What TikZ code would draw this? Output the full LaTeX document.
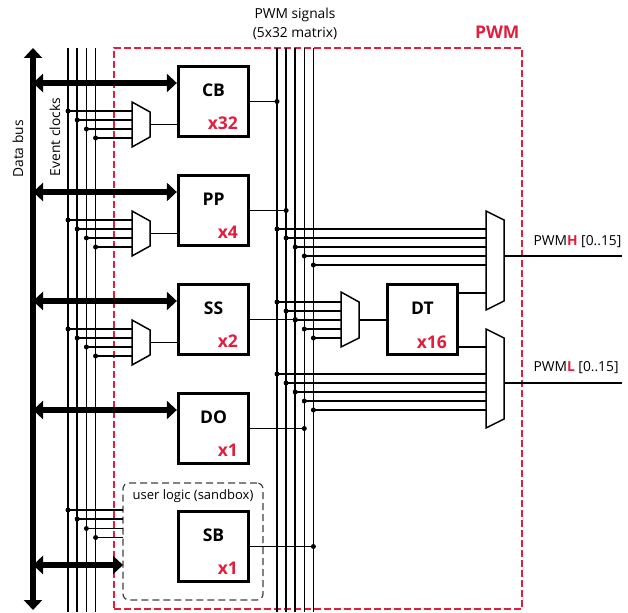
\documentclass[tikz,border=0pt]{standalone}
\usepackage{fontspec}
\setmainfont{Open Sans}
\usetikzlibrary{arrows.meta,calc}
\definecolor{pwmred}{RGB}{226,30,62}
\begin{document}
\begin{tikzpicture}[x=1pt,y=-1pt,
  wire/.style={line width=1.5pt},
  busarrow/.style={line width=6pt,{Triangle[width=18pt,length=10pt]}-{Triangle[width=18pt,length=10pt]}},
  blk/.style={draw,fill=white,line width=3.3pt,minimum width=70pt,minimum height=70pt,inner sep=0pt},
  dot/.style={circle,fill,inner sep=0pt,minimum size=5pt},
  mux/.style={draw,line width=1.5pt,fill=white,line join=miter},
  namefont/.style={font=\fontsize{17.5}{20}\selectfont\bfseries},
  cntfont/.style={font=\fontsize{17.5}{20}\selectfont\bfseries,text=pwmred},
  txt/.style={font=\fontsize{13.8}{16}\selectfont},
]
\useasboundingbox (0,0) rectangle (628,612);

% PWM region
\node[draw=pwmred,line width=1.2pt,dash pattern=on 7pt off 3pt,minimum width=408pt,minimum height=561pt,inner sep=0pt,outer sep=0pt] (pwmbox) at (318,328.5) {};
\node[font=\fontsize{17.5}{20}\selectfont\bfseries,text=pwmred,anchor=east] (pwmtitle) at (523,32) {PWM};

% sandbox
\node[draw=black!75,line width=1.2pt,dash pattern=on 7pt off 4pt,rounded corners=6pt,minimum width=140pt,minimum height=117pt,inner sep=0pt,outer sep=0pt] (sandbox) at (193,541.5) {};
\node[font=\fontsize{13}{15}\selectfont] (sbtitle) at (193,496) {user logic (sandbox)};

% titles
\node[txt] (sig1) at (295,15) {PWM signals};
\node[txt] (sig2) at (295,34) {(5x32 matrix)};
\node[txt,rotate=90] (dbus) at (18,149) {Data bus};
\node[txt,rotate=90] (evclk) at (55,137) {Event clocks};

% event clock lines
\foreach \i/\x in {1/68,2/77.2,3/86.4,4/95.6}{
  \coordinate (ckt\i) at (\x,48);
  \coordinate (ckb\i) at (\x,612);
  \draw[wire] (ckt\i) -- (ckb\i);
}
% PWM signal lines
\foreach \i/\x in {1/277,2/286.1,3/295.2,4/304.3,5/313.4}{
  \coordinate (pwmv\i) at (\x,48);
  \coordinate (pwmb\i) at (\x,612);
  \draw[wire] (pwmv\i) -- (pwmb\i);
}

% blocks
\foreach \n/\t/\k/\p in {CB/65/32/1,PP/174/4/2,SS/283/2/3,DO/392/1/4,SB/510/1/5}{
  \node[blk] (box\n) at (213.5,\t+36.5) {};
  \node[namefont] (lab\n) at (213.5,\t+25) {\n};
  \node[cntfont,anchor=east] (cnt\n) at (241.5,\t+58) {x\k};
  \node[dot] (out\n) at (pwmv\p |- box\n.east) {};
  \draw[wire] (box\n.east) -- (out\n.center);
}

% clock muxes
\foreach \n/\t in {CB/65,PP/174,SS/283}{
  \foreach \i/\x/\d in {1/68/46,2/77.2/55,3/86.4/64,4/95.6/73}{
    \node[dot] (d\n\i) at (\x,\t+\d) {};
    \coordinate (in\n\i) at (132,\t+\d);
    \draw[wire] (d\n\i.center) -- (in\n\i);
  }
  \draw[mux] (132,\t+37) -- (150,\t+47) -- (150,\t+72) -- (132,\t+82) -- cycle;
  \coordinate (mo\n) at (150,\t+59.5);
  \draw[wire] (mo\n) -- (mo\n -| box\n.west);
}

% sandbox clock inputs
\foreach \i/\x/\y in {1/68/510,2/77.2/519,3/86.4/528.5,4/95.6/537.5}{
  \node[dot] (sbd\i) at (\x,\y) {};
  \draw[wire] (sbd\i.center) -- (sbd\i.center -| sandbox.west);
}

% DT block and its mux
\node[blk] (boxDT) at (422.5,319.5) {};
\node[namefont] (labDT) at (422.5,308) {DT};
\node[cntfont,anchor=east] (cntDT) at (450.5,342) {x16};
\foreach \i/\x/\y in {1/277/302,2/286.1/311,3/295.2/320,4/304.3/329,5/313.4/338}{
  \node[dot] (dt\i) at (\x,\y) {};
  \coordinate (dtin\i) at (341,\y);
  \draw[wire] (dt\i.center) -- (dtin\i);
}
\draw[mux] (341,292) -- (359,302) -- (359,338) -- (341,347) -- cycle;
\coordinate (dtmo) at (359,320);
\draw[wire] (dtmo) -- (dtmo -| boxDT.west);

% H mux
\foreach \i/\x/\y in {1/277/229,2/286.1/238,3/295.2/247,4/304.3/256,5/313.4/265}{
  \node[dot] (hd\i) at (\x,\y) {};
  \coordinate (hin\i) at (486,\y);
  \draw[wire] (hd\i.center) -- (hin\i);
}
\coordinate (dth) at (459,293);
\coordinate (hdt) at (486,293);
\draw[wire] (dth) -- (hdt);
\draw[mux] (486,211) -- (504,220) -- (504,301) -- (486,310) -- cycle;
\coordinate (hout) at (504,256);
\coordinate (hend) at (622,256);
\draw[wire] (hout) -- (hend);
\node[txt,anchor=west] (pwmH) at (530,242) {PWM\textcolor{pwmred}{\bfseries H} [0..15]};

% L mux
\foreach \i/\x/\y in {1/277/374,2/286.1/383,3/295.2/392,4/304.3/401,5/313.4/410}{
  \node[dot] (ld\i) at (\x,\y) {};
  \coordinate (lin\i) at (486,\y);
  \draw[wire] (ld\i.center) -- (lin\i);
}
\coordinate (dtl) at (459,347);
\coordinate (ldt) at (486,347);
\draw[wire] (dtl) -- (ldt);
\draw[mux] (486,329) -- (504,338) -- (504,419) -- (486,428) -- cycle;
\coordinate (lout) at (504,383);
\coordinate (lend) at (622,383);
\draw[wire] (lout) -- (lend);
\node[txt,anchor=west] (pwmL) at (530,368) {PWM\textcolor{pwmred}{\bfseries L} [0..15]};

% data bus and bus arrows
\coordinate (bustop) at (33,48);
\coordinate (busbot) at (33,610);
\draw[busarrow] (busbot) -- (bustop);
\foreach \n/\t in {CB/65,PP/174,SS/283,DO/392}{
  \coordinate (bus\n) at (33,\t+18);
  \draw[busarrow] (bus\n) -- (bus\n -| box\n.west);
}
\coordinate (busSB) at (33,565);
\draw[busarrow] (busSB) -- (busSB -| sandbox.west);
\end{tikzpicture}
\end{document}
